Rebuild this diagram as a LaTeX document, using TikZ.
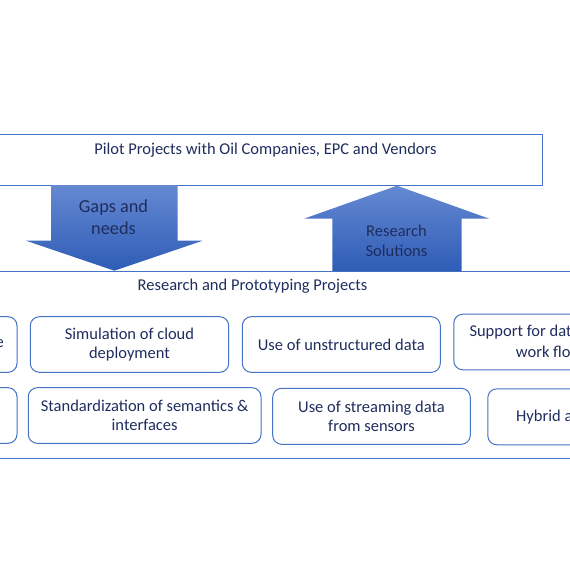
\documentclass[tikz,border=0pt]{standalone}
\usepackage{fontspec}
\setmainfont{Carlito}
\definecolor{lineblue}{HTML}{4472C4}
\definecolor{navy}{HTML}{1F2D5E}
\definecolor{arrowtop}{HTML}{6589D2}
\definecolor{arrowbot}{HTML}{2E5CB6}
\newcommand{\bodyfont}{\fontsize{16.5}{19.6}\selectfont}
\newcommand{\arrowfont}{\fontsize{18.3}{22.3}\selectfont}
\begin{document}
\begin{tikzpicture}[x=1pt,y=-1pt,
  frame/.style={draw=lineblue,line width=1pt,inner sep=0pt},
  box/.style={draw=lineblue,line width=1pt,rounded corners=9pt,inner sep=0pt,
    align=center,text=navy,font=\bodyfont},
  lbl/.style={text=navy,font=\bodyfont,align=center,inner sep=0pt},
  albl/.style={text=navy,font=\arrowfont,align=center,inner sep=0pt},
  bigarrow/.style={top color=arrowtop,bottom color=arrowbot,draw=none}]
\useasboundingbox (0,0) rectangle (570,563);
\clip (0,0) rectangle (570,563);

% top box (pilot projects)
\node[frame,minimum width=552pt,minimum height=51pt,anchor=north west] (pilotbox) at (-10,134) {};
\node[lbl] (pilot) at (265.5,150) {Pilot Projects with Oil Companies, EPC and Vendors};

% research container
\node[frame,minimum width=600pt,minimum height=187pt,anchor=north west] (resbox) at (-15,271) {};
\node[lbl] (res) at (252.5,286) {Research and Prototyping Projects};

% down arrow
\path[bigarrow] (51,185) -- (177.7,185) -- (177.7,240.7) -- (202.7,240.7)
  -- (114.35,270.7) -- (26,240.7) -- (51,240.7) -- cycle;
\node[albl] (gaps) at (113.5,217) {Gaps and\\needs};

% up arrow
\path[bigarrow] (397,185.7) -- (489.3,218.7) -- (461.7,218.7) -- (461.7,271)
  -- (332.3,271) -- (332.3,218.7) -- (304,218.7) -- cycle;
\node[lbl] (sol) at (396.5,240.7) {Research\\Solutions};

% row 1
\node[box,minimum width=207pt,minimum height=55.6pt] (a1) at (-86.5,344.5) {};
\node[lbl,anchor=east] (a1t) at (4,344) {e};
\node[box,minimum width=198.4pt,minimum height=55.6pt] (b1) at (129.5,344.5) {Simulation of cloud\\deployment};
\node[box,minimum width=198pt,minimum height=55.6pt] (c1) at (341.3,344.5) {Use of unstructured data};
\node[box,minimum width=198pt,minimum height=55.6pt,anchor=north west] (d1) at (453.3,313.7) {};
\node[lbl,anchor=west] (d1a) at (469.3,332.3) {Support for dat};
\node[lbl,anchor=west] (d1b) at (515.7,351.7) {work flo};

% row 2
\node[box,minimum width=207pt,minimum height=55.6pt] (a2) at (-86.5,415.5) {};
\node[box,minimum width=232.7pt,minimum height=55.6pt] (b2) at (144.65,415.5) {Standardization of semantics \&\\interfaces};
\node[box,minimum width=197.6pt,minimum height=56pt] (c2) at (371.5,416.3) {Use of streaming data\\from sensors};
\node[box,minimum width=220pt,minimum height=56pt,anchor=north west] (d2) at (487.3,388.3) {};
\node[lbl,anchor=west] (d2t) at (516,417.3) {Hybrid a};
\end{tikzpicture}
\end{document}
